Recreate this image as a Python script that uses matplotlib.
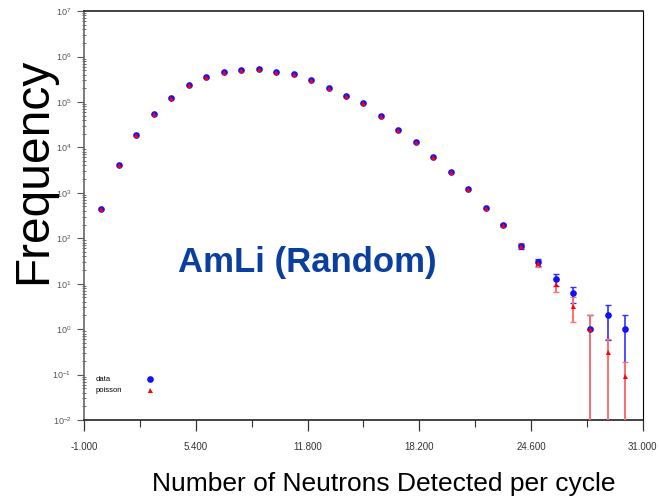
import matplotlib
matplotlib.use("Agg")
import matplotlib.pyplot as plt
from matplotlib.ticker import FixedLocator, FormatStrFormatter, LogLocator, NullFormatter

# counts per number of neutrons detected
n_neutrons = list(range(31))
data = [444, 4060, 18800, 55600, 125000, 236000, 354000, 464000, 508000, 531000,
        464000, 405000, 309000, 206000, 137000, 95500, 48500, 24700, 13100, 6080,
        2820, 1200, 464, 197, 67, 30, 12.5, 6.1, 1, 2, 1]
poisson = [444, 4060, 18800, 55600, 125000, 236000, 354000, 464000, 508000, 531000,
           464000, 405000, 309000, 206000, 137000, 95500, 48500, 24700, 13100, 6080,
           2820, 1200, 464, 197, 69, 28.5, 9.6, 3.2, 1.0, 0.31, 0.095]

# error bars only visible on the tail
tail_start = 23
data_err = [14, 8.2, 5.5, 3.5, 2.4, 1.0, 1.41, 1.0]
poisson_err = [14, 8.3, 5.3, 3.1, 1.8, 1.0, 0.31, 0.095]

xticks = [-1.0, 5.4, 11.8, 18.2, 24.6, 31.0]

plt.rcParams["font.family"] = ["Liberation Sans", "DejaVu Sans"]
plt.rcParams["mathtext.fontset"] = "custom"
plt.rcParams["mathtext.rm"] = "Liberation Sans"
plt.rcParams["mathtext.it"] = "Liberation Sans"

fig = plt.figure(figsize=(6.59, 5.03), dpi=100)
ax = fig.add_axes([0.1275, 0.165, 0.848, 0.813])

tail_x = n_neutrons[tail_start:]
ax.errorbar(tail_x, data[tail_start:], yerr=data_err, fmt="none",
            ecolor="#3030ff", elinewidth=1.2, capsize=2.5, zorder=2)
ax.errorbar(tail_x, poisson[tail_start:], yerr=poisson_err, fmt="none",
            ecolor="#ff7070", elinewidth=1.4, capsize=2.5, zorder=3)

data_style = dict(marker="o", color="#1010ff", markersize=4.8, markeredgewidth=0, linestyle="none")
pois_style = dict(marker="^", color="#ff0000", markersize=3.6, markeredgewidth=0, linestyle="none")
ax.plot(n_neutrons, data, zorder=4, **data_style)
ax.plot(n_neutrons, poisson, zorder=5, **pois_style)

ax.set_yscale("log")
ax.set_ylim(1e-2, 1e7)
ax.set_xlim(-1, 31)

ax.yaxis.set_major_locator(LogLocator(base=10, numticks=12))
ax.yaxis.set_minor_locator(LogLocator(base=10, subs=range(2, 10), numticks=12))
ax.yaxis.set_minor_formatter(NullFormatter())
ax.tick_params(axis="y", which="major", labelsize=6.5, colors="#555555",
               length=5, width=0.8, direction="out", pad=4)
ax.tick_params(axis="y", which="minor", length=2.5, width=0.6,
               direction="inout", color="#555555")

ax.xaxis.set_major_locator(FixedLocator(xticks))
ax.xaxis.set_minor_locator(FixedLocator([t + 3.2 for t in xticks[:-1]]))
ax.xaxis.set_major_formatter(FormatStrFormatter("%.3f"))
ax.tick_params(axis="x", which="major", labelsize=7, colors="#333333",
               length=8, width=0.9, direction="out", pad=8)
ax.tick_params(axis="x", which="minor", length=5, width=0.8, direction="out",
               color="#333333")

for side in ["left", "bottom", "top"]:
    ax.spines[side].set_color("#222222")
    ax.spines[side].set_linewidth(1.2)
ax.spines["left"].set_color("#666666")
ax.spines["right"].set_linewidth(0.8)

ax.set_ylabel("Frequency", fontsize=34.5)
ax.yaxis.set_label_coords(-0.05, 0.61)
ax.set_xlabel("Number of Neutrons Detected per cycle", fontsize=19)
ax.xaxis.set_label_coords(0.537, -0.128)

ax.text(0.399, 0.386, "AmLi (Random)", transform=ax.transAxes, ha="center",
        va="center", fontsize=25, fontweight="bold", color="#0a3fa0")

# small key in the lower left: labels left-aligned, symbols in a column to the right
for label, style, ky in [("data", data_style, 0.100), ("poisson", pois_style, 0.073)]:
    ax.text(0.02, ky, label, transform=ax.transAxes, fontsize=5.5,
            ha="left", va="center")
    ax.plot([0.118], [ky], transform=ax.transAxes, clip_on=False, **style)

fig.savefig("out.png", dpi=100)
